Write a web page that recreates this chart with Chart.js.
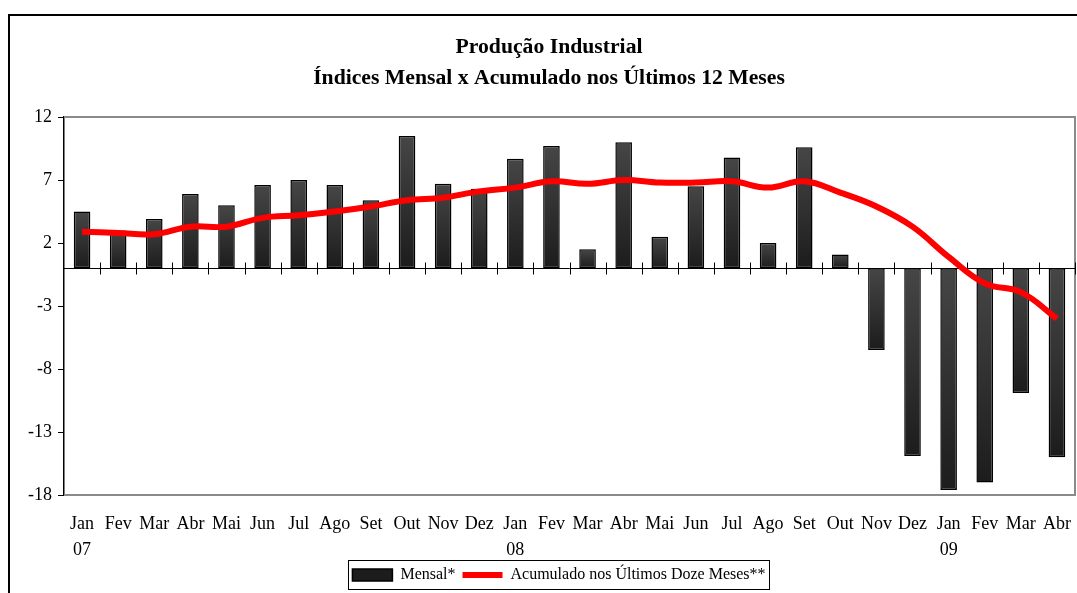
<!DOCTYPE html>
<html lang="pt">
<head>
<meta charset="utf-8">
<title>Produção Industrial</title>
<script src="https://cdn.jsdelivr.net/npm/chart.js@4/dist/chart.umd.min.js"></script>
<style>
  html, body { margin:0; padding:0; background:#fff; }
  #wrap { position:relative; width:1077px; height:593px; overflow:hidden; }
  #moldura { position:absolute; left:8px; top:14px; width:1200px; height:700px; border-left:2px solid #000; border-top:2px solid #000; }
  #grafico { position:absolute; left:0; top:0; }
</style>
</head>
<body>
<div id="wrap">
  <div id="moldura"></div>
  <canvas id="grafico" width="1077" height="593"></canvas>
</div>
<script>
// dados
const meses = ['Jan','Fev','Mar','Abr','Mai','Jun','Jul','Ago','Set','Out','Nov','Dez',
               'Jan','Fev','Mar','Abr','Mai','Jun','Jul','Ago','Set','Out','Nov','Dez',
               'Jan','Fev','Mar','Abr'];
const anos = ['07','08','09'];
const mensal = [4.5, 3.0, 3.9, 5.9, 5.0, 6.6, 7.0, 6.6, 5.4, 10.5, 6.7, 6.3,
                8.7, 9.7, 1.5, 10.0, 2.5, 6.5, 8.8, 2.0, 9.6, 1.1, -6.5, -14.9,
                -17.6, -17.0, -9.9, -15.0];
const acumulado = [2.9, 2.8, 2.7, 3.3, 3.3, 4.0, 4.2, 4.5, 4.9, 5.4, 5.6, 6.1,
                   6.4, 6.9, 6.7, 7.0, 6.8, 6.8, 6.9, 6.4, 6.9, 6.0, 4.9, 3.3,
                   0.9, -1.2, -1.9, -4.0];
const yTicks = [-18, -13, -8, -3, 2, 7, 12];

const labels = meses.map((m, i) => i % 12 === 0 ? [m, anos[i / 12]] : m);
const serif = "'Liberation Serif','Times New Roman',serif";

Chart.defaults.font.family = serif;
Chart.defaults.color = '#000';

// gradiente das barras (mais claro em cima)
const barFill = c => {
  if (c.type !== 'data') return '#2b2b2b';
  const { chart } = c;
  if (!chart.chartArea) return '#2b2b2b';
  const y = chart.scales.y;
  const v = c.raw;
  const g = chart.ctx.createLinearGradient(0, y.getPixelForValue(Math.max(v, 0)), 0, y.getPixelForValue(Math.min(v, 0)));
  g.addColorStop(0, '#464646');
  g.addColorStop(1, '#1c1c1c');
  return g;
};

// borda cinza da área, linha do zero com marcas
const areaPlugin = {
  id: 'area',
  beforeDatasetsDraw(chart) {
    const { ctx, chartArea: a, scales: { x, y } } = chart;
    ctx.save();
    ctx.strokeStyle = '#8a8a8a';
    ctx.lineWidth = 2;
    ctx.beginPath();
    ctx.moveTo(a.left, a.top); ctx.lineTo(a.right, a.top);
    ctx.lineTo(a.right, a.bottom); ctx.lineTo(a.left, a.bottom);
    ctx.stroke();
    const y0 = Math.round(y.getPixelForValue(0)) + 0.5;
    ctx.strokeStyle = '#000';
    ctx.lineWidth = 1;
    ctx.beginPath();
    ctx.moveTo(a.left, y0); ctx.lineTo(a.right, y0);
    for (let i = 1; i <= meses.length; i++) {
      const px = Math.round(x.getPixelForValue(i - 0.5)) + 0.5;
      ctx.moveTo(px, y0 - 6); ctx.lineTo(px, y0 + 6);
    }
    ctx.stroke();
    ctx.restore();
  }
};

// caixa da legenda
const legendBox = {
  id: 'legendBox',
  afterLayout(chart) {
    chart.legend.left += 10;
    chart.legend.right += 10;
  },
  afterDraw(chart) {
    const lg = chart.legend;
    const hb = lg.legendHitBoxes;
    if (!hb || !hb.length) return;
    const l = Math.min(...hb.map(h => h.left)) - 4;
    const r = Math.max(...hb.map(h => h.left + h.width)) + 4;
    const ctx = chart.ctx;
    ctx.save();
    ctx.strokeStyle = '#000';
    ctx.lineWidth = 1;
    ctx.strokeRect(Math.round(l) + 0.5, Math.round(lg.top) + 0.5, Math.round(r - l), 29);
    ctx.restore();
  }
};

new Chart(document.getElementById('grafico'), {
  data: {
    labels,
    datasets: [
      {
        type: 'line',
        label: 'Acumulado nos Últimos Doze Meses**',
        data: acumulado,
        borderColor: '#ff0000',
        backgroundColor: '#ff0000',
        borderWidth: 6,
        tension: 0.4,
        pointRadius: 0,
        pointStyle: 'line',
        fill: false
      },
      {
        type: 'bar',
        label: 'Mensal*',
        data: mensal,
        backgroundColor: barFill,
        borderColor: '#000',
        borderWidth: 1.5,
        borderSkipped: false,
        barPercentage: 0.46,
        categoryPercentage: 1,
        pointStyle: 'rect'
      }
    ]
  },
  options: {
    responsive: false,
    animation: false,
    layout: { padding: { left: 23, right: 2, top: 0, bottom: 0 } },
    plugins: {
      title: {
        display: true,
        text: ['Produção Industrial', 'Índices Mensal x Acumulado nos Últimos 12 Meses'],
        font: { size: 21.7, weight: 'bold', lineHeight: 1.43 },
        color: '#000',
        padding: { top: 32, bottom: 23 }
      },
      legend: {
        position: 'bottom',
        labels: {
          usePointStyle: true,
          pointStyleWidth: 40,
          boxHeight: 12,
          padding: 7,
          font: { size: 16 },
          color: '#000',
          sort: (a, b) => b.datasetIndex - a.datasetIndex
        }
      },
      tooltip: { enabled: false }
    },
    scales: {
      x: {
        grid: { display: false, drawTicks: false },
        border: { display: false },
        ticks: { padding: 17, maxRotation: 0, autoSkip: false, font: { size: 18, lineHeight: 1.4 } },
        afterFit: s => { s.height = 65; s.paddingLeft = 0; s.paddingRight = 0; }
      },
      y: {
        min: yTicks[0],
        max: yTicks[yTicks.length - 1],
        ticks: { stepSize: yTicks[1] - yTicks[0], padding: 6, font: { size: 18 } },
        grid: { drawOnChartArea: false, color: '#000', tickLength: 6 },
        border: { color: '#000', width: 1.5 },
        afterFit: s => { s.width = 41; }
      }
    }
  },
  plugins: [areaPlugin, legendBox]
});
</script>
</body>
</html>
